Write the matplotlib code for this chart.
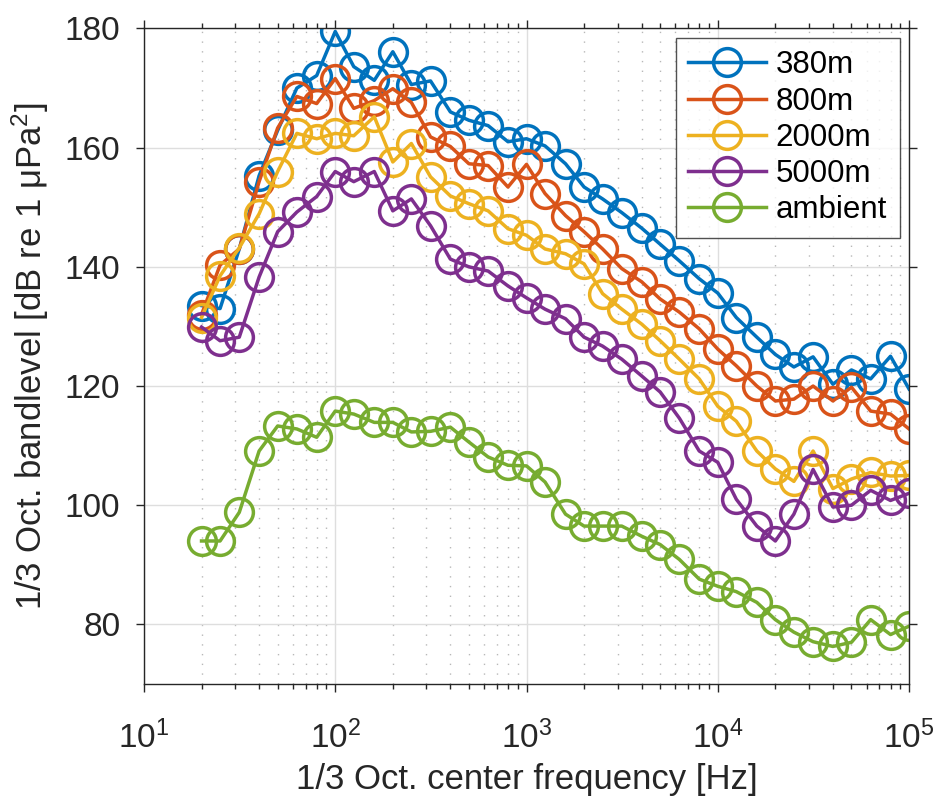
#!/usr/bin/env python3
"""1/3 octave band levels vs. center frequency at several ranges."""

import matplotlib

matplotlib.use("Agg")
import matplotlib.pyplot as plt
from matplotlib.ticker import LogLocator, NullFormatter

plt.rcParams["font.family"] = ["Liberation Sans", "DejaVu Sans"]
plt.rcParams["mathtext.default"] = "regular"

freqs = [20, 25, 31.5, 40, 50, 63, 80, 100, 125, 160, 200, 250, 315, 400, 500,
         630, 800, 1000, 1250, 1600, 2000, 2500, 3150, 4000, 5000, 6300, 8000,
         10000, 12500, 16000, 20000, 25000, 31500, 40000, 50000, 63000, 80000,
         100000]

level_380m = [133.5, 133.0, 143.0, 155.3, 162.9, 170.0, 172.1, 179.5, 173.6, 171.3,
              176.1, 170.6, 171.2, 166.0, 164.6, 163.7, 161.0, 161.5, 160.3, 157.3,
              153.4, 151.4, 149.1, 146.5, 143.8, 141.0, 138.0, 135.6, 131.5, 128.2,
              125.3, 123.2, 124.9, 120.3, 122.7, 121.2, 125.0, 119.5]
level_800m = [132.0, 140.3, 143.0, 154.3, 163.3, 168.6, 167.4, 171.6, 166.6, 167.9,
              169.9, 167.6, 161.8, 160.2, 157.3, 157.0, 153.4, 157.2, 152.3, 148.6,
              145.9, 143.0, 139.7, 137.5, 134.6, 132.4, 129.6, 126.2, 123.4, 120.0,
              117.5, 117.8, 120.0, 117.5, 119.8, 115.8, 115.3, 112.8]
level_2000m = [131.5, 138.5, 143.2, 148.9, 156.0, 162.4, 161.5, 162.4, 162.0, 165.2,
               157.6, 160.7, 155.1, 151.9, 150.6, 149.4, 146.4, 145.3, 143.0, 142.2,
               140.5, 135.5, 132.9, 130.4, 127.6, 124.5, 121.2, 116.6, 114.1, 109.1,
               106.1, 104.0, 109.1, 102.8, 104.4, 105.5, 104.9, 105.0]
level_5000m = [129.9, 127.6, 128.2, 138.3, 145.9, 149.2, 151.8, 156.0, 154.3, 156.0,
               149.4, 151.4, 146.9, 141.3, 140.0, 139.3, 136.8, 134.8, 132.9, 131.3,
               128.2, 126.7, 124.5, 121.7, 119.0, 114.6, 109.1, 107.2, 101.0, 96.5,
               94.0, 98.5, 106.0, 99.7, 100.0, 102.5, 100.8, 102.0]
level_ambient = [94.0, 94.0, 98.8, 109.1, 113.3, 112.8, 111.4, 115.8, 115.3, 113.9,
                 113.9, 112.3, 112.4, 113.1, 110.6, 108.1, 106.7, 106.6, 103.9, 98.5,
                 96.5, 96.5, 96.5, 94.8, 93.4, 90.9, 87.6, 86.4, 85.5, 83.7,
                 80.8, 78.7, 77.1, 76.3, 77.0, 80.8, 78.3, 79.7]

series = [
    ("380m", level_380m, "#0072BD"),
    ("800m", level_800m, "#D95319"),
    ("2000m", level_2000m, "#EDB120"),
    ("5000m", level_5000m, "#7E2F8E"),
    ("ambient", level_ambient, "#77AC30"),
]

AX_COLOR = "#262626"

fig = plt.figure(figsize=(9.36, 7.96), dpi=100)
ax = fig.add_axes([0.1538, 0.1407, 0.8174, 0.8235])

for name, values, color in series:
    ax.plot(freqs, values, color=color, linewidth=2.5, marker="o",
            markersize=20, markerfacecolor="none", markeredgewidth=2.5,
            label=name)

ax.set_xscale("log")
ax.set_xlim(10, 1e5)
ax.set_ylim(70, 180)
ax.set_yticks([80, 100, 120, 140, 160, 180])
ax.xaxis.set_major_locator(LogLocator(base=10, numticks=10))
ax.xaxis.set_minor_locator(LogLocator(base=10, subs=range(2, 10), numticks=50))
ax.xaxis.set_minor_formatter(NullFormatter())

ax.grid(True, which="major", color="#dedede", linewidth=1.0, linestyle="-")
ax.grid(True, which="minor", axis="x", color="#b8b8b8", linewidth=1.0,
        linestyle=(0, (1, 6)))
ax.set_axisbelow(True)

for side in ax.spines.values():
    side.set_color(AX_COLOR)
    side.set_linewidth(1.0)
ax.tick_params(which="both", direction="out", top=True, right=True,
               colors=AX_COLOR, labelsize=24)
ax.tick_params(which="major", length=6, width=1.0)
ax.tick_params(which="minor", length=3.5, width=1.0)
ax.tick_params(axis="y", which="major", pad=11)
ax.tick_params(axis="x", which="major", pad=20)

ax.set_xlabel("1/3 Oct. center frequency [Hz]", fontsize=25, color=AX_COLOR,
              labelpad=6)
ax.set_ylabel("1/3 Oct. bandlevel [dB re 1 μPa$^2$]", fontsize=25,
              color=AX_COLOR, labelpad=10)

leg = ax.legend(loc="upper right", fontsize=22.5, frameon=True, fancybox=False,
                edgecolor="#262626", handlelength=2.5, borderaxespad=0.3,
                labelspacing=0.2, handletextpad=0.3, borderpad=0.4)
leg.get_frame().set_linewidth(1.0)

fig.savefig("out.png", dpi=100)
